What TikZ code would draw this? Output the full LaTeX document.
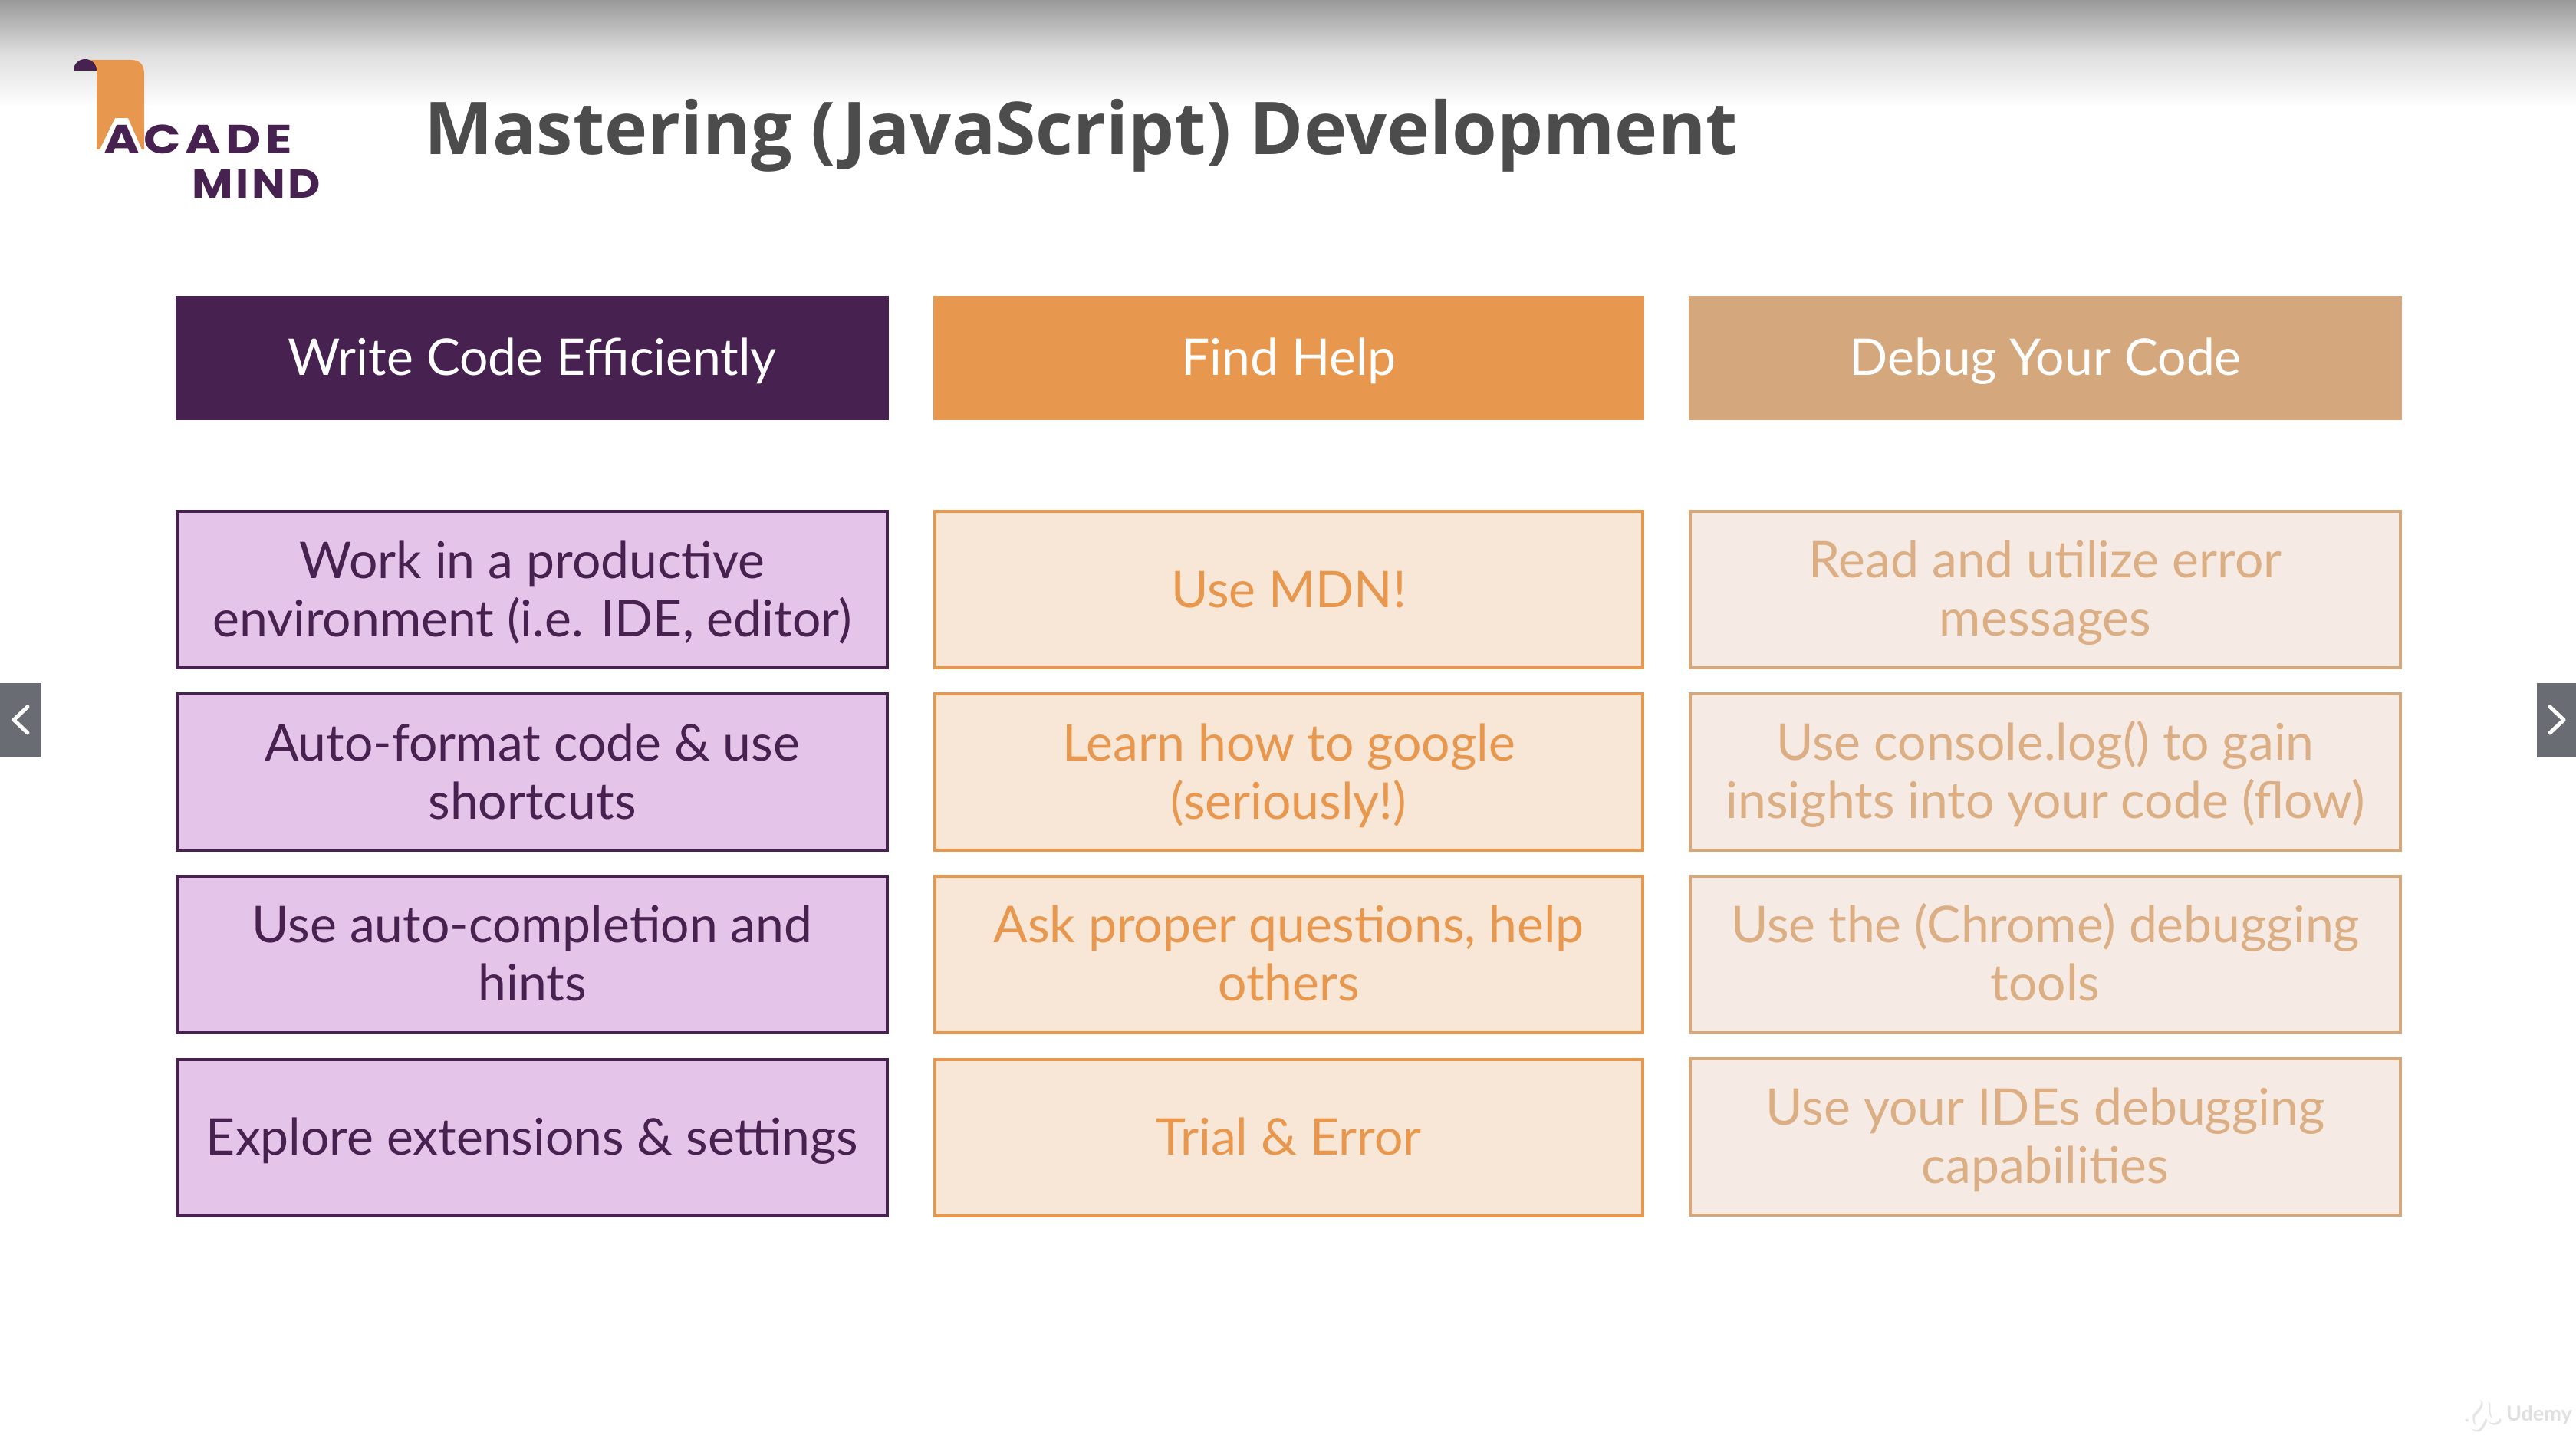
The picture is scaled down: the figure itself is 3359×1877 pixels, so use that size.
\documentclass[tikz,border=0pt]{standalone}
\usepackage{fontspec}
\setmainfont{Lato}
\newfontfamily\titlefont{Open Sans}[UprightFont=* Bold]
\newfontfamily\logofonta{Poppins}[UprightFont=*-Bold,LetterSpace=11,FakeStretch=1.2]
\newfontfamily\logofontb{Poppins}[UprightFont=*-Bold,LetterSpace=7,FakeStretch=1.1]
\definecolor{plum}{HTML}{47214F}
\definecolor{ptfill}{HTML}{E5C4E9}
\definecolor{orng}{HTML}{E8984E}
\definecolor{orfill}{HTML}{F8E6D6}
\definecolor{tan}{HTML}{D4A87C}
\definecolor{tanfill}{HTML}{F5EBE4}
\definecolor{tantext}{HTML}{DBAE84}
\definecolor{panel}{HTML}{696D73}
\newcommand{\st}{\rule[-2.3pt]{0pt}{13.8pt}}
\tikzset{
  every node/.style={inner sep=0pt,outer sep=0pt},
  cell/.style={rectangle,minimum width=#1*0.2pt-4*0.2pt,minimum height=204*0.2pt,line width=4*0.2pt,align=center,font=\fontsize{13.2}{15.2}\selectfont},
  cell/.default=930,
  head/.style={rectangle,minimum width=#1*0.2pt,minimum height=162*0.2pt,text=white,align=center,font=\fontsize{13.2}{15.2}\selectfont},
  head/.default=930,
  purp/.style={cell=930,draw=plum,fill=ptfill,text=plum},
  oran/.style={cell=927,draw=orng,fill=orfill,text=orng},
  tanb/.style={cell=930,draw=tan,fill=tanfill,text=tantext},
  chev/.style={white,line width=5*0.2pt,line cap=round,line join=round},
  logotext/.style={anchor=base west,text=plum},
}
\begin{document}
\begin{tikzpicture}[x=0.2pt,y=-0.2pt]
\useasboundingbox (0,0) rectangle (3359,1877);
\fill[white] (0,0) rectangle (3359,1877);
\shade[top color=black!40,bottom color=white,middle color=black!13] (0,0) rectangle (3359,140);
% logo
\fill[orng] (112,78) -- (170,78) .. controls (182,78) and (188,84) .. (188,96) -- (188,195) -- (185,195) -- (167,154) -- (150,154) -- (130,195) -- (126,195) -- (126,92) -- (112,92) -- cycle;
\fill[plum] (96,92) .. controls (96,84) and (102,77) .. (111,77) .. controls (120,77) and (126,84) .. (126,92) -- cycle;
\node[logotext,font=\logofonta\fontsize{10.6}{12}\selectfont] (acade) at (135,201) {ACADE};
\node[logotext,font=\logofontb\fontsize{10.6}{12}\selectfont] (mind) at (250,259) {MIND};
% title
\node[anchor=base west,text=black!70,font=\titlefont\fontsize{19}{24}\selectfont] (title) at (553,202) {Mastering (JavaScript) Development};
% headers
\node[head=930,fill=plum] (h1) at (694,467) {\st Write Code Efficiently};
\node[head=927,fill=orng] (h2) at (1680.5,467) {\st Find Help};
\node[head=930,fill=tan] (h3) at (2667,467) {\st Debug Your Code};
% column 1
\node[purp] (a1) at (694,769) {\st Work in a productive\\\st environment (i.e. IDE, editor)};
\node[purp] (a2) at (694,1007) {\st Auto-format code \& use\\\st shortcuts};
\node[purp] (a3) at (694,1244.5) {\st Use auto-completion and\\\st hints};
\node[purp] (a4) at (694,1483.5) {\st Explore extensions \& settings};
% column 2
\node[oran] (b1) at (1680.5,769) {\st Use MDN!};
\node[oran] (b2) at (1680.5,1007) {\st Learn how to google\\\st (seriously!)};
\node[oran] (b3) at (1680.5,1244.5) {\st Ask proper questions, help\\\st others};
\node[oran] (b4) at (1680.5,1483.5) {\st Trial \& Error};
% column 3
\node[tanb] (c1) at (2667,769) {\st Read and utilize error\\\st messages};
\node[tanb] (c2) at (2667,1007) {\st Use console.log() to gain\\\st insights into your code (flow)};
\node[tanb] (c3) at (2667,1244.5) {\st Use the (Chrome) debugging\\\st tools};
\node[tanb] (c4) at (2667,1482.5) {\st Use your IDEs debugging\\\st capabilities};
% side panels
\fill[panel] (0,891) rectangle (54,988);
\draw[chev] (36,922) -- (18,939) -- (36,956);
\fill[panel] (3308,891) rectangle (3359,988);
\draw[chev] (3325,922) -- (3343,939) -- (3325,956);
% watermark
\draw[black!10,line width=7*0.2pt,line cap=round,line join=round] (3218,1851) .. controls (3232,1840) and (3240,1826) .. (3229,1830) .. controls (3222,1840) and (3220,1866) .. (3232,1864) .. controls (3240,1858) and (3244,1840) .. (3244,1832) .. controls (3242,1850) and (3250,1860) .. (3258,1853);
\draw[white,line width=6*0.2pt,line cap=round,line join=round] (3216,1848) .. controls (3230,1838) and (3238,1824) .. (3227,1828) .. controls (3220,1838) and (3218,1864) .. (3230,1862) .. controls (3238,1856) and (3242,1838) .. (3242,1830) .. controls (3240,1848) and (3248,1858) .. (3256,1851);
\node[anchor=base west,text=black!12,font=\fontsize{5.4}{6}\bfseries\selectfont] (udemy) at (3268,1853) {Udemy};
\end{tikzpicture}
\end{document}
